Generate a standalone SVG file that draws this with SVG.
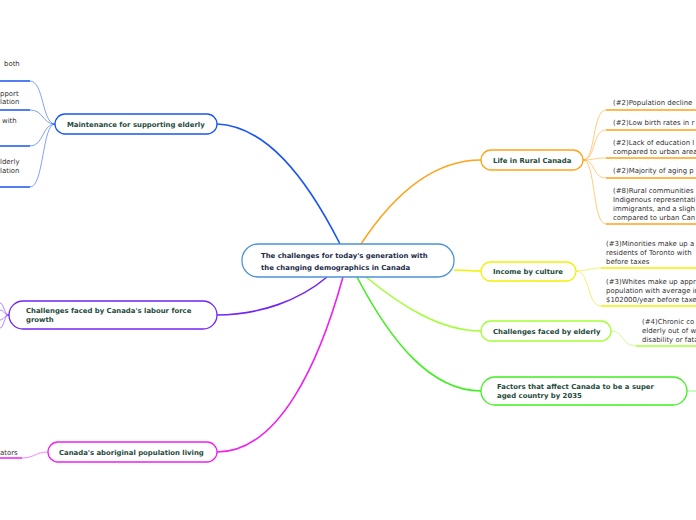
<svg xmlns="http://www.w3.org/2000/svg" width="696" height="520" viewBox="0 0 696 520">
<style>
.node{fill:#fff;stroke-width:1.3}
.mt{font-family:"DejaVu Sans",Verdana,sans-serif;font-weight:bold;font-size:6.9px;fill:#1e4a3c}
.ct{font-family:"DejaVu Sans",Verdana,sans-serif;font-weight:bold;font-size:6.9px;fill:#1b2a4a}
.st{font-family:"DejaVu Sans",Verdana,sans-serif;font-size:6.95px;fill:#333}
.main{fill:none;stroke-width:1.6}
.br{fill:none;stroke-width:1;stroke-opacity:0.55}
.ul{fill:none;stroke-width:1.5}
</style>
<rect width="696" height="520" fill="#fff"/>
<g id="connectors">
<path class="main" stroke="#1a56f0" d="M340,244 C305,175 265,126 217,124"/>
<path class="main" stroke="#ffa31a" d="M361,244 C390,200 430,160 481,160"/>
<path class="main" stroke="#f2f200" d="M454,270 C465,270 470,271 481,271"/>
<path class="main" stroke="#a2ff33" d="M366,277 C400,305 440,331 481,331"/>
<path class="main" stroke="#3ef01e" d="M357,277 C390,340 430,391 481,391"/>
<path class="main" stroke="#f020f0" d="M343,277 C320,360 280,452 217,452"/>
<path class="main" stroke="#7424f5" d="M327,277 C300,300 260,315 217,315"/>
<!-- orange branches -->
<path class="br" stroke="#ffa31a" d="M583,160 C596,160 592,110 606,110"/>
<path class="br" stroke="#ffa31a" d="M583,160 C596,160 592,130 606,130"/>
<path class="br" stroke="#ffa31a" d="M583,160 C596,160 592,158 606,158"/>
<path class="br" stroke="#ffa31a" d="M583,160 C596,160 592,178 606,178"/>
<path class="br" stroke="#ffa31a" d="M583,160 C596,160 592,224 606,224"/>
<path class="ul" stroke="#ffa31a" d="M606,110 H696 M606,130 H696 M606,158 H696 M606,178 H696 M606,224 H696"/>
<!-- yellow branches -->
<path class="br" stroke="#e8e800" d="M576,271 C588,271 588,268 601,268"/>
<path class="br" stroke="#e8e800" d="M576,271 C590,271 587,306 601,306"/>
<path class="ul" stroke="#f2f200" d="M601,268 H696 M601,306 H696"/>
<!-- light green branch -->
<path class="br" stroke="#a2ff33" d="M611,331 C624,331 622,346 636,346"/>
<path class="ul" stroke="#a2ff33" d="M636,346 H696"/>
<!-- green branch -->
<path class="br" stroke="#3ef01e" d="M687,391 H696"/>
<!-- blue branches -->
<path class="br" stroke="#1a56f0" d="M55,124 C42,124 44,81 30,81"/>
<path class="br" stroke="#1a56f0" d="M55,124 C42,124 44,110 30,110"/>
<path class="br" stroke="#1a56f0" d="M55,124 C42,124 44,146 30,146"/>
<path class="br" stroke="#1a56f0" d="M55,124 C42,124 44,187 30,187"/>
<path class="ul" stroke="#1a56f0" d="M0,81 H30 M0,110 H30 M0,146 H30 M0,187 H30"/>
<!-- purple branches -->
<path class="br" stroke="#7424f5" d="M9,315 C4,315 4,303 0,303"/>
<path class="br" stroke="#7424f5" d="M9,315 C4,315 4,310 0,310"/>
<path class="br" stroke="#7424f5" d="M9,315 C4,315 4,320 0,320"/>
<path class="br" stroke="#7424f5" d="M9,315 C4,315 4,328 0,328"/>
<!-- magenta branch -->
<path class="br" stroke="#f020f0" d="M48,452 C36,452 34,458 22,458"/>
<path class="ul" stroke="#f020f0" d="M0,458 H22"/>
</g>
<g id="center">
<rect class="node" x="242" y="244" width="212" height="33" rx="16" stroke="#4a94d6"/>
<text class="ct" x="261" y="258">The challenges for today's generation with</text>
<text class="ct" x="261" y="270">the changing demographics in Canada</text>
</g>
<g id="maintenance">
<rect class="node" x="55" y="114" width="162" height="20" rx="10" stroke="#1a56f0"/>
<text class="mt" x="67" y="127">Maintenance for supporting elderly</text>
</g>
<g id="labour">
<rect class="node" x="9" y="301" width="208" height="28" rx="14" stroke="#7424f5"/>
<text class="mt" x="26" y="313">Challenges faced by Canada's labour force</text>
<text class="mt" x="26" y="322">growth</text>
</g>
<g id="aboriginal">
<rect class="node" x="48" y="442" width="169" height="20" rx="10" stroke="#f020f0"/>
<text class="mt" x="59" y="455">Canada's aboriginal population living</text>
</g>
<g id="rural">
<rect class="node" x="481" y="150" width="102" height="20" rx="10" stroke="#ffa31a"/>
<text class="mt" x="493" y="163">Life in Rural Canada</text>
</g>
<g id="income">
<rect class="node" x="481" y="262" width="95" height="19" rx="9.5" stroke="#f2f200"/>
<text class="mt" x="493" y="274">Income by culture</text>
</g>
<g id="elderly">
<rect class="node" x="481" y="321" width="130" height="20" rx="10" stroke="#a2ff33"/>
<text class="mt" x="493" y="334">Challenges faced by elderly</text>
</g>
<g id="factors">
<rect class="node" x="481" y="377" width="206" height="28" rx="14" stroke="#3ef01e"/>
<text class="mt" x="497" y="389">Factors that affect Canada to be a super</text>
<text class="mt" x="497" y="398">aged country by 2035</text>
</g>
<g id="rural-items">
<text class="st" x="613" y="105">(#2)Population decline</text>
<text class="st" x="613" y="125">(#2)Low birth rates in r</text>
<text class="st" x="613" y="145">(#2)Lack of education l</text>
<text class="st" x="613" y="154">compared to urban area</text>
<text class="st" x="613" y="173">(#2)Majority of aging p</text>
<text class="st" x="613" y="193">(#8)Rural communities</text>
<text class="st" x="613" y="202">Indigenous representati</text>
<text class="st" x="613" y="211">immigrants, and a sligh</text>
<text class="st" x="613" y="220">compared to urban Can</text>
</g>
<g id="income-items">
<text class="st" x="606" y="246">(#3)Minorities make up a</text>
<text class="st" x="606" y="255">residents of Toronto with</text>
<text class="st" x="606" y="264">before taxes</text>
<text class="st" x="606" y="284">(#3)Whites make up appr</text>
<text class="st" x="606" y="293">population with average in</text>
<text class="st" x="606" y="302">$102000/year before taxe</text>
</g>
<g id="elderly-items">
<text class="st" x="642" y="324">(#4)Chronic co</text>
<text class="st" x="642" y="333">elderly out of w</text>
<text class="st" x="642" y="342">disability or fata</text>
</g>
<g id="maintenance-items">
<text class="st" x="4" y="66">both</text>
<text class="st" x="0" y="96">pport</text>
<text class="st" x="0" y="104">lation</text>
<text class="st" x="2" y="123">with</text>
<text class="st" x="0" y="164">lderly</text>
<text class="st" x="0" y="173">lation</text>
</g>
<g id="aboriginal-items">
<text class="st" x="0" y="455">ators</text>
</g>
</svg>
